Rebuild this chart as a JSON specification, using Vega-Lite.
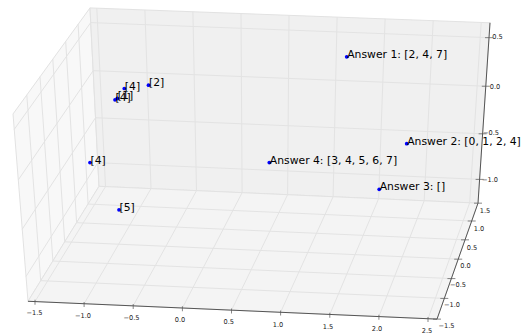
{
  "$schema": "https://vega.github.io/schema/vega-lite/v6.json",
  "width": 523,
  "height": 335,
  "autosize": {"type": "fit", "contains": "padding"},
  "padding": 0,
  "background": "white",
  "config": {"view": {"stroke": null}, "font": "DejaVu Sans"},
  "datasets": {
    "panes": [
      {"pane": "left", "ord": 1, "sx": 13, "sy": 115},
      {"pane": "left", "ord": 2, "sx": 90, "sy": 8},
      {"pane": "left", "ord": 3, "sx": 99, "sy": 188},
      {"pane": "left", "ord": 4, "sx": 28, "sy": 304},
      {"pane": "back", "ord": 1, "sx": 90, "sy": 8},
      {"pane": "back", "ord": 2, "sx": 490, "sy": 23},
      {"pane": "back", "ord": 3, "sx": 478, "sy": 205},
      {"pane": "back", "ord": 4, "sx": 99, "sy": 188},
      {"pane": "floor", "ord": 1, "sx": 99, "sy": 188},
      {"pane": "floor", "ord": 2, "sx": 478, "sy": 205},
      {"pane": "floor", "ord": 3, "sx": 437, "sy": 322},
      {"pane": "floor", "ord": 4, "sx": 28, "sy": 304}
    ],
    "grid": [
      {"x1": 96.8, "y1": 8.3, "x2": 105.5, "y2": 188.3},
      {"x1": 144.9, "y1": 10.1, "x2": 151, "y2": 190.3},
      {"x1": 192.9, "y1": 11.9, "x2": 196.5, "y2": 192.4},
      {"x1": 241, "y1": 13.7, "x2": 242.1, "y2": 194.4},
      {"x1": 289, "y1": 15.5, "x2": 287.6, "y2": 196.5},
      {"x1": 337.1, "y1": 17.3, "x2": 333.1, "y2": 198.5},
      {"x1": 385.1, "y1": 19.1, "x2": 378.6, "y2": 200.5},
      {"x1": 433.2, "y1": 20.9, "x2": 424.2, "y2": 202.6},
      {"x1": 481.2, "y1": 22.7, "x2": 469.7, "y2": 204.6},
      {"x1": 90.7, "y1": 22.8, "x2": 489, "y2": 38},
      {"x1": 93.2, "y1": 71.3, "x2": 485.8, "y2": 87},
      {"x1": 95.5, "y1": 118.8, "x2": 482.6, "y2": 135},
      {"x1": 97.8, "y1": 164.2, "x2": 479.6, "y2": 181},
      {"x1": 14.2, "y1": 130.6, "x2": 90.7, "y2": 22.8},
      {"x1": 18.3, "y1": 181.5, "x2": 93.2, "y2": 71.3},
      {"x1": 22.2, "y1": 231.3, "x2": 95.5, "y2": 118.8},
      {"x1": 26, "y1": 279, "x2": 97.8, "y2": 164.2},
      {"x1": 40.7, "y1": 283.2, "x2": 26.8, "y2": 95.8},
      {"x1": 52.9, "y1": 263.4, "x2": 40, "y2": 77.5},
      {"x1": 64.7, "y1": 244, "x2": 52.8, "y2": 59.7},
      {"x1": 76.6, "y1": 224.7, "x2": 65.7, "y2": 41.8},
      {"x1": 88.1, "y1": 205.9, "x2": 78.1, "y2": 24.5},
      {"x1": 105.5, "y1": 188.3, "x2": 35, "y2": 304.3},
      {"x1": 151, "y1": 190.3, "x2": 84.1, "y2": 306.5},
      {"x1": 196.5, "y1": 192.4, "x2": 133.2, "y2": 308.6},
      {"x1": 242.1, "y1": 194.4, "x2": 182.4, "y2": 310.8},
      {"x1": 287.6, "y1": 196.5, "x2": 231.5, "y2": 313},
      {"x1": 333.1, "y1": 198.5, "x2": 280.6, "y2": 315.1},
      {"x1": 378.6, "y1": 200.5, "x2": 329.8, "y2": 317.3},
      {"x1": 424.2, "y1": 202.6, "x2": 378.9, "y2": 319.4},
      {"x1": 469.7, "y1": 204.6, "x2": 428, "y2": 321.6},
      {"x1": 40.7, "y1": 283.2, "x2": 444.3, "y2": 301.1},
      {"x1": 52.9, "y1": 263.4, "x2": 451.4, "y2": 281.1},
      {"x1": 64.7, "y1": 244, "x2": 458.2, "y2": 261.5},
      {"x1": 76.6, "y1": 224.7, "x2": 465, "y2": 242},
      {"x1": 88.1, "y1": 205.9, "x2": 471.7, "y2": 223}
    ],
    "axes": [
      {"axis": "x", "x1": 28, "y1": 304, "x2": 437, "y2": 322},
      {"axis": "y", "x1": 437, "y1": 322, "x2": 478, "y2": 205},
      {"axis": "z", "x1": 478, "y1": 205, "x2": 490, "y2": 23}
    ],
    "ticks": [
      {"axis": "x", "v": "−1.5", "tx": 35, "ty": 305, "lx": 34.5, "ly": 315.5},
      {"axis": "x", "v": "−1.0", "tx": 84.1, "ty": 307.2, "lx": 83, "ly": 318.5},
      {"axis": "x", "v": "−0.5", "tx": 133.2, "ty": 309.3, "lx": 131.5, "ly": 320.5},
      {"axis": "x", "v": "0.0", "tx": 182.4, "ty": 311.5, "lx": 180, "ly": 322.7},
      {"axis": "x", "v": "0.5", "tx": 231.5, "ty": 313.7, "lx": 228.7, "ly": 325},
      {"axis": "x", "v": "1.0", "tx": 280.6, "ty": 315.8, "lx": 278, "ly": 327.5},
      {"axis": "x", "v": "1.5", "tx": 329.8, "ty": 318, "lx": 328, "ly": 329.8},
      {"axis": "x", "v": "2.0", "tx": 378.9, "ty": 320.1, "lx": 377, "ly": 331.7},
      {"axis": "x", "v": "2.5", "tx": 428, "ty": 322.3, "lx": 427, "ly": 334},
      {"axis": "y", "v": "−1.5", "tx": 437, "ty": 322, "lx": 446.5, "ly": 329},
      {"axis": "y", "v": "−1.0", "tx": 444.3, "ty": 301.1, "lx": 452, "ly": 307.5},
      {"axis": "y", "v": "−0.5", "tx": 451.4, "ty": 281.1, "lx": 458, "ly": 288},
      {"axis": "y", "v": "0.0", "tx": 458.2, "ty": 261.5, "lx": 465.5, "ly": 268.5},
      {"axis": "y", "v": "0.5", "tx": 465, "ty": 242, "lx": 472, "ly": 250},
      {"axis": "y", "v": "1.0", "tx": 471.7, "ty": 223, "lx": 479, "ly": 231},
      {"axis": "y", "v": "1.5", "tx": 478, "ty": 205, "lx": 485, "ly": 212.5},
      {"axis": "z", "v": "0.5", "tx": 489, "ty": 38, "lx": 497.5, "ly": 37.8},
      {"axis": "z", "v": "0.0", "tx": 485.8, "ty": 87, "lx": 495, "ly": 87.5},
      {"axis": "z", "v": "−0.5", "tx": 482.6, "ty": 135, "lx": 491, "ly": 134},
      {"axis": "z", "v": "−1.0", "tx": 479.6, "ty": 181, "lx": 490, "ly": 181.5}
    ],
    "points": [
      {"label": "Answer 1: [2, 4, 7]", "sx": 346.7, "sy": 57.3},
      {"label": "Answer 2: [0, 1, 2, 4]", "sx": 406.7, "sy": 145},
      {"label": "Answer 3: []", "sx": 379.2, "sy": 191},
      {"label": "Answer 4: [3, 4, 5, 6, 7]", "sx": 269.3, "sy": 164},
      {"label": "[4]", "sx": 90, "sy": 164},
      {"label": "[5]", "sx": 119, "sy": 211.7},
      {"label": "[2]", "sx": 148.5, "sy": 86},
      {"label": "[4]", "sx": 124.3, "sy": 89.3},
      {"label": "[4]", "sx": 115, "sy": 100.7},
      {"label": "[1]", "sx": 117.3, "sy": 99.3}
    ]
  },
  "layer": [
    {
      "data": {"name": "panes"},
      "mark": {"type": "line", "interpolate": "linear-closed", "stroke": "#e2e2e2", "strokeWidth": 1},
      "encoding": {
        "x": {"field": "sx", "type": "quantitative", "scale": {"domain": [0, 523], "nice": false, "zero": false}, "axis": null},
        "y": {"field": "sy", "type": "quantitative", "scale": {"domain": [0, 335], "nice": false, "zero": false, "reverse": true}, "axis": null},
        "order": {"field": "ord", "type": "quantitative"},
        "detail": {"field": "pane", "type": "nominal"},
        "fill": {"field": "pane", "type": "nominal", "scale": {"domain": ["left", "back", "floor"], "range": ["#f8f8f8", "#f0f0f0", "#f4f4f4"]}, "legend": null}
      }
    },
    {
      "data": {"name": "grid"},
      "mark": {"type": "rule", "stroke": "#e3e3e3", "strokeWidth": 1},
      "encoding": {
        "x": {"field": "x1", "type": "quantitative", "scale": {"domain": [0, 523], "nice": false, "zero": false}, "axis": null},
        "y": {"field": "y1", "type": "quantitative", "scale": {"domain": [0, 335], "nice": false, "zero": false, "reverse": true}, "axis": null},
        "x2": {"field": "x2"},
        "y2": {"field": "y2"}
      }
    },
    {
      "data": {"name": "axes"},
      "mark": {"type": "rule", "stroke": "#555555", "strokeWidth": 1},
      "encoding": {
        "x": {"field": "x1", "type": "quantitative", "axis": null},
        "y": {"field": "y1", "type": "quantitative", "axis": null},
        "x2": {"field": "x2"},
        "y2": {"field": "y2"}
      }
    },
    {
      "data": {"name": "ticks"},
      "mark": {"type": "text", "fontSize": 6.6, "align": "center", "baseline": "middle", "fill": "#222222"},
      "encoding": {
        "x": {"field": "lx", "type": "quantitative", "axis": null},
        "y": {"field": "ly", "type": "quantitative", "axis": null},
        "text": {"field": "v"}
      }
    },
    {
      "data": {"name": "ticks"},
      "transform": [{"filter": "datum.axis === 'x'"}],
      "mark": {"type": "tick", "orient": "vertical", "size": 5, "thickness": 1, "color": "#555555"},
      "encoding": {
        "x": {"field": "tx", "type": "quantitative", "axis": null},
        "y": {"field": "ty", "type": "quantitative", "axis": null}
      }
    },
    {
      "data": {"name": "ticks"},
      "transform": [{"filter": "datum.axis !== 'x'"}],
      "mark": {"type": "tick", "orient": "horizontal", "size": 8, "thickness": 1, "color": "#555555"},
      "encoding": {
        "x": {"field": "tx", "type": "quantitative", "axis": null},
        "y": {"field": "ty", "type": "quantitative", "axis": null}
      }
    },
    {
      "data": {"name": "points"},
      "mark": {"type": "point", "filled": true, "size": 14, "color": "#0000ff", "opacity": 1},
      "encoding": {
        "x": {"field": "sx", "type": "quantitative", "axis": null},
        "y": {"field": "sy", "type": "quantitative", "axis": null}
      }
    },
    {
      "data": {"name": "points"},
      "mark": {"type": "text", "fontSize": 10.8, "align": "left", "baseline": "alphabetic", "dx": 0.5, "dy": 1, "fill": "#000000"},
      "encoding": {
        "x": {"field": "sx", "type": "quantitative", "axis": null},
        "y": {"field": "sy", "type": "quantitative", "axis": null},
        "text": {"field": "label"}
      }
    }
  ]
}
